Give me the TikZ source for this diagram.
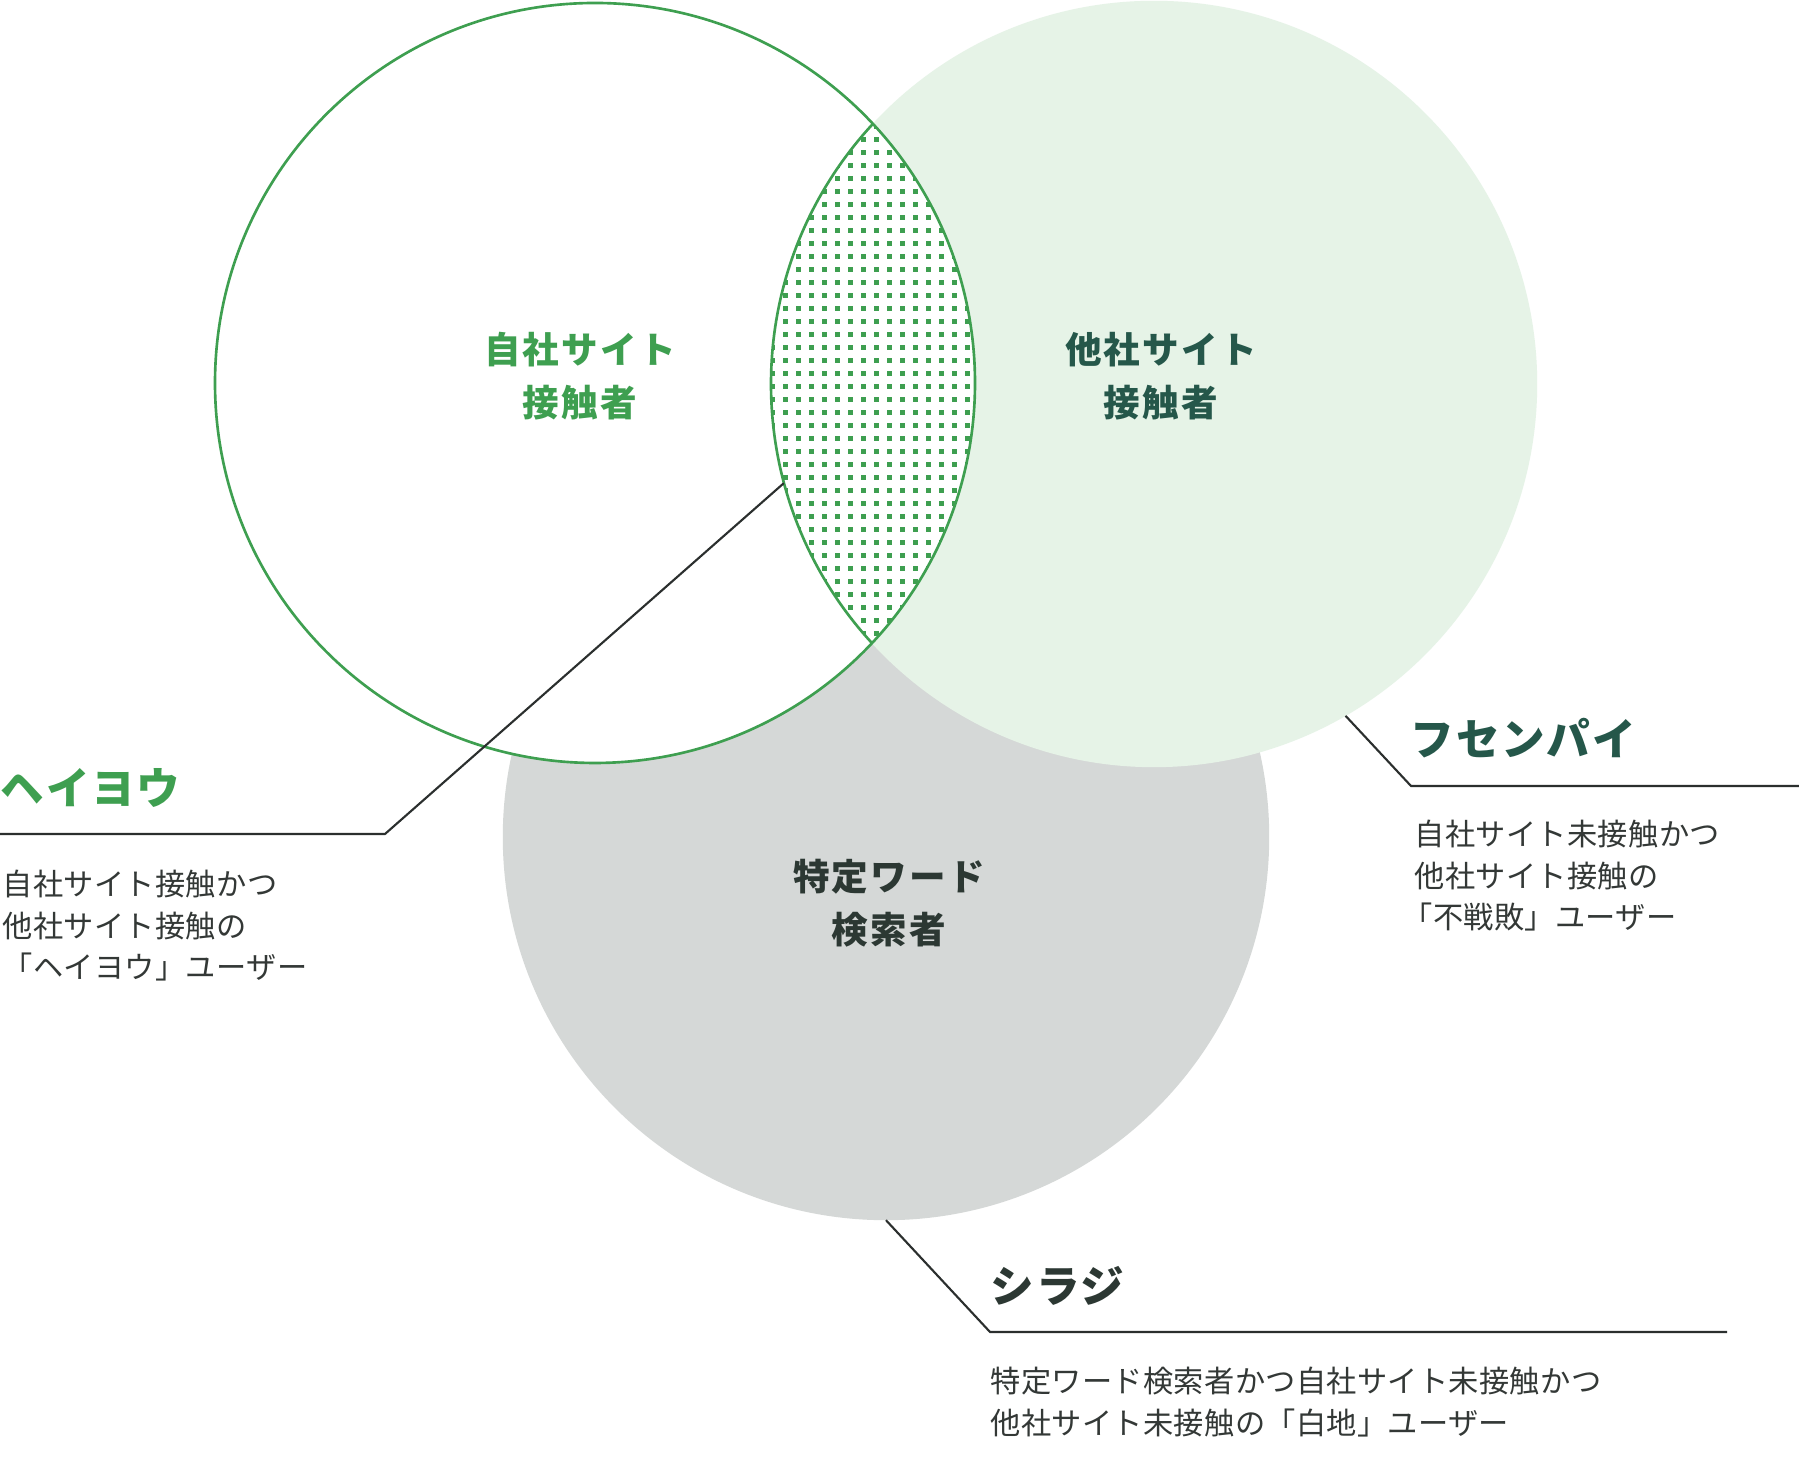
\documentclass[tikz,border=0pt]{standalone}
\usepackage{xcolor}
\usepackage{fontspec}
\newfontfamily\jpfont{Noto Sans CJK JP}
\usepackage{tikz}
\usetikzlibrary{positioning, calc}

\definecolor{vgreen}{HTML}{3E9F50}
\definecolor{lightgreen}{HTML}{E6F3E7}
\definecolor{searchgray}{HTML}{D5D8D7}
\definecolor{darkgreen}{HTML}{25574A}
\definecolor{darktext}{HTML}{2C3833}
\definecolor{notegray}{HTML}{333836}
\definecolor{linegray}{HTML}{2B2F2E}

\begin{document}
\begin{tikzpicture}[
  x=0.01cm, y=0.01cm,
  venn/.style={circle, inner sep=0pt, outer sep=0pt, minimum size=7.66cm},
  setlbl/.style={font=\jpfont\bfseries\addfontfeature{LetterSpace=6}\fontsize{10.4}{15}\selectfont,
                 align=center, inner sep=0pt},
  title/.style={font=\jpfont\bfseries\addfontfeature{LetterSpace=4}\fontsize{12.4}{14}\selectfont,
                anchor=west, inner sep=0pt},
  note/.style={font=\jpfont\addfontfeature{LetterSpace=1}\fontsize{8.6}{11.8}\selectfont,
               align=left, anchor=west, inner sep=0pt, text=notegray},
  leader/.style={draw=linegray, line width=0.6pt}
]
\fill[white] (0,0) rectangle (1799,1467);
\useasboundingbox (0,0) rectangle (1799,1467);

% the three sets
\node[venn, fill=searchgray] (kensaku) at (886,630) {};
\node[venn, fill=lightgreen] (tasha) at (1154,1083) {};
\node[venn, fill=white, minimum size=7.6cm] (jisha) at (595,1084) {};

% overlap of own and other site, dotted
\begin{scope}
  \clip (jisha.center) circle (380);
  \clip (tasha.center) circle (383);
  \fill[white] (tasha.center) circle (383);
  \foreach \i in {0,...,16}
    \foreach \j in {0,...,41}
      \fill[vgreen] ({770+13*\i},{818+13*\j}) rectangle ++(4.5,4.5);
\end{scope}
\begin{scope}
  \clip (jisha.center) circle (380);
  \draw[vgreen, line width=0.75pt] (tasha.center) circle (383);
\end{scope}
\draw[vgreen, line width=0.75pt] (jisha.center) circle (380);

% set labels
\node[setlbl, text=vgreen] (jishalbl) at (580,1091) {自社サイト\\接触者};
\node[setlbl, text=darkgreen] (tashalbl) at (1161,1091) {他社サイト\\接触者};
\node[setlbl, text=darktext] (kensakulbl) at (889,564) {特定ワード\\検索者};

% leaders
\coordinate (hcorner) at (385,633);
\coordinate (hend) at (0,633);
\coordinate (fcorner) at (1411,681);
\coordinate (fend) at (1799,681);
\coordinate (scorner) at (990,135);
\coordinate (send) at (1727,135);

\draw[leader] (tasha.195) -- (hcorner) -- (hend);
\draw[leader] (tasha.300) -- (fcorner) -- (fend);
\draw[leader] (kensaku.south) -- (scorner) -- (send);

% segment names
\node[title, text=vgreen] (heiyou) at (0,679) {ヘイヨウ};
\node[title, text=darkgreen] (fusenpai) at (1410,729) {フセンパイ};
\node[title, text=darktext] (shiraji) at (990,181) {シラジ};

\node[note] (heiyounote) at (2,541)
  {自社サイト接触かつ\\他社サイト接触の\\「ヘイヨウ」ユーザー};
\node[note] (fusenpainote) at (1414,591)
  {自社サイト未接触かつ\\他社サイト接触の\\\kern-0.4em「不戦敗」ユーザー};
\node[note] (shirajinote) at (990,65)
  {特定ワード検索者かつ自社サイト未接触かつ\\他社サイト未接触の「白地」ユーザー};

\end{tikzpicture}
\end{document}
